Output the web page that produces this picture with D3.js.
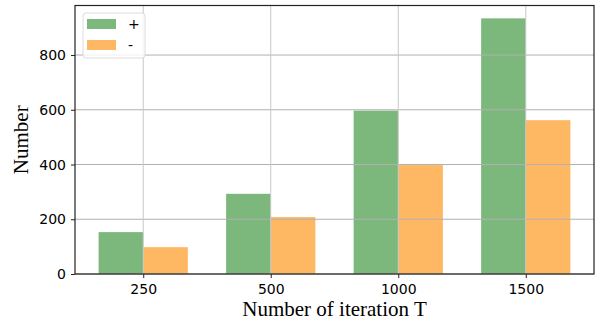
<!DOCTYPE html>
<html>
<head>
<meta charset="utf-8">
<script src="https://cdn.jsdelivr.net/npm/d3@7"></script>
<style>
  body { margin: 0; background: #fff; }
  .tick text { font-family: "DejaVu Sans", sans-serif; font-size: 14px; fill: #000; }
  .axis-label { font-family: "Liberation Serif", "Times New Roman", serif; font-size: 21px; }
</style>
</head>
<body>
<svg class="barchart" width="602" height="320"></svg>
<script>
// data
let iterations = ["250", "500", "1000", "1500"];
let seriesNames = ["+", "-"];
let plusCounts = [153, 293, 597, 934];
let minusCounts = [98, 208, 398, 562];
let yTicks = [0, 200, 400, 600, 800];
let colors = ["#7cb87c", "#feb864"];

let svg = d3.select("body").select(".barchart");

let margin = { top: 5.5, right: 8, bottom: 46, left: 75 };
let plotWidth = 602 - margin.left - margin.right;
let plotHeight = 320 - margin.top - margin.bottom;

// matplotlib-like: bar centers at 0..3, width 0.35, 5% margins
let barW = 0.35;
let xScale = d3.scaleLinear()
  .domain([-0.535, 3.535])
  .range([0, plotWidth]);
let yScale = d3.scaleLinear()
  .domain([0, 981])
  .range([plotHeight, 0]);

let plot = svg.append("g").attr("transform", translate(margin.left, margin.top));

// bars
let seriesData = [plusCounts, minusCounts];
seriesData.forEach(function (vals, s) {
  plot.selectAll(".bar" + s)
    .data(vals)
    .enter().append("rect")
    .attr("class", "bar" + s)
    .attr("x", (d, i) => xScale(i + (s === 0 ? -barW : 0)))
    .attr("width", xScale(barW) - xScale(0))
    .attr("y", d => yScale(d))
    .attr("height", d => plotHeight - yScale(d))
    .attr("fill", colors[s]);
});

// gridlines above bars
let gridY = plot.append("g").attr("class", "grid");
gridY.selectAll("line")
  .data(yTicks)
  .enter().append("line")
  .attr("x1", 0).attr("x2", plotWidth)
  .attr("y1", d => yScale(d)).attr("y2", d => yScale(d))
  .attr("stroke", "#b0b0b0").attr("stroke-width", 1);
let gridX = plot.append("g").attr("class", "grid");
gridX.selectAll("line")
  .data(iterations)
  .enter().append("line")
  .attr("y1", 0).attr("y2", plotHeight)
  .attr("x1", (d, i) => xScale(i)).attr("x2", (d, i) => xScale(i))
  .attr("stroke", "#c8c8c8").attr("stroke-width", 1);

// axes
let xAxis = d3.axisBottom(xScale)
  .tickValues(d3.range(iterations.length))
  .tickFormat(i => iterations[i])
  .tickSize(4).tickPadding(6);
let yAxis = d3.axisLeft(yScale)
  .tickValues(yTicks)
  .tickSize(4).tickPadding(5);

let xGroup = plot.append("g").attr("transform", translate(0, plotHeight)).call(xAxis);
let yGroup = plot.append("g").call(yAxis);
xGroup.select(".domain").remove();
yGroup.select(".domain").remove();
plot.selectAll(".tick line").attr("stroke", "#222").attr("stroke-width", 1);

// frame
plot.append("rect")
  .attr("x", 0).attr("y", 0)
  .attr("width", plotWidth).attr("height", plotHeight)
  .attr("fill", "none").attr("stroke", "#222").attr("stroke-width", 1.2);

// axis labels
svg.append("text")
  .attr("class", "axis-label")
  .attr("x", margin.left + plotWidth / 2)
  .attr("y", 316)
  .attr("text-anchor", "middle")
  .text("Number of iteration T");
svg.append("text")
  .attr("class", "axis-label")
  .attr("transform", "rotate(-90)")
  .attr("x", -(margin.top + plotHeight / 2))
  .attr("y", 28)
  .attr("text-anchor", "middle")
  .text("Number");

// legend
let legend = svg.append("g").attr("transform", translate(83, 13));
legend.append("rect")
  .attr("width", 62).attr("height", 45).attr("rx", 3)
  .attr("fill", "#fff").attr("fill-opacity", 0.8)
  .attr("stroke", "#dcdcdc").attr("stroke-width", 1);
seriesNames.forEach(function (name, s) {
  legend.append("rect")
    .attr("x", 4).attr("y", 6 + s * 21)
    .attr("width", 29).attr("height", 10)
    .attr("fill", colors[s]);
  legend.append("text")
    .attr("x", 45).attr("y", 11 + s * 21)
    .attr("dy", "0.35em")
    .style("font-family", "DejaVu Sans, sans-serif")
    .style("font-size", "14px")
    .text(name);
});

function translate(x, y) {
  return 'translate(' + x + ',' + y + ')';
}
</script>
</body>
</html>
